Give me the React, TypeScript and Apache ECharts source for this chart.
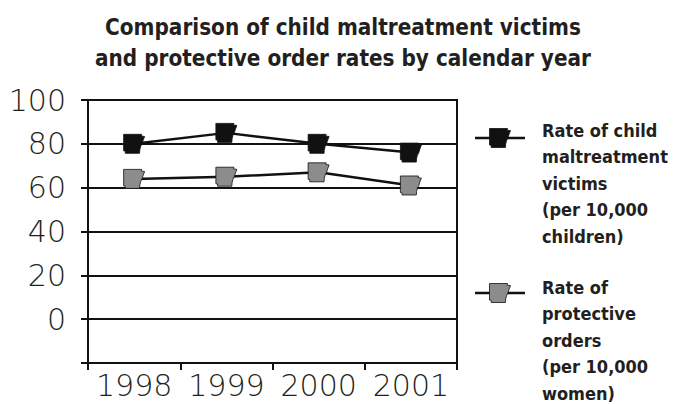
import React, { useEffect, useRef } from "react";
import * as echarts from "echarts";

const years = ["1998", "1999", "2000", "2001"];
const childMaltreatment = [80, 85, 80, 76];
const protectiveOrders = [64, 65, 67, 61];
const seriesNames = [
  "Rate of child\nmaltreatment\nvictims\n(per 10,000\nchildren)",
  "Rate of\nprotective\norders\n(per 10,000\nwomen)",
];
const titleText =
  "Comparison of child maltreatment victims\nand protective order rates by calendar year";
const yMin = -20;
const yMax = 100;
const yStep = 20;

const AR_PATH =
  "M0 0 L86 0 L84 8 L100 10 L93 28 L88 44 L81 58 L77 74 L76 90 L8 90 L8 80 L0 78 Z";
const AR_POINTS: number[][] = [
  [0, 0], [86, 0], [84, 8], [100, 10], [93, 28], [88, 44], [81, 58], [77, 74], [76, 90], [8, 90], [8, 80], [0, 78],
];

const TITLE_FONT = "'DejaVu Sans Condensed', 'Liberation Sans Narrow', sans-serif";
const AXIS_FONT = "'DejaVu Sans', sans-serif";

function legendItem(top: number, symY: number, fill: string, text: string) {
  const w = 21;
  const h = 19;
  const cx = 500;
  return [
    {
      type: "line",
      shape: { x1: 475, y1: symY, x2: 525, y2: symY },
      style: { stroke: "#111", lineWidth: 2.5 },
    },
    {
      type: "polygon",
      shape: {
        points: AR_POINTS.map((p) => [cx - w / 2 + (p[0] * w) / 100, symY - h / 2 + (p[1] * h) / 90]),
      },
      style: { fill, stroke: "#111", lineWidth: 0.8 },
    },
    {
      type: "text",
      left: 542,
      top,
      style: {
        text,
        font: `bold 18px ${TITLE_FONT}`,
        fill: "#231f20",
        lineHeight: 26.5,
      },
    },
  ];
}

export default function App() {
  const ref = useRef<HTMLDivElement>(null);
  useEffect(() => {
    if (!ref.current) return;
    const chart = echarts.init(ref.current, null, { renderer: "svg" });
    const symbol = "path://" + AR_PATH;
    chart.setOption({
      animation: false,
      backgroundColor: "#ffffff",
      title: {
        text: titleText,
        left: 338,
        textAlign: "center",
        top: 6,
        textStyle: {
          fontFamily: TITLE_FONT,
          fontWeight: "bold",
          fontSize: 22.3,
          lineHeight: 31,
          color: "#231f20",
        },
      },
      grid: {
        left: 88,
        right: 219,
        top: 100,
        bottom: 41,
        show: true,
        borderColor: "#111",
        borderWidth: 2,
        containLabel: false,
      },
      xAxis: {
        type: "category",
        data: years,
        boundaryGap: true,
        axisLine: { show: true, onZero: false, lineStyle: { color: "#111", width: 2 } },
        axisTick: { show: true, length: 7, interval: 0, lineStyle: { color: "#111", width: 2 } },
        axisLabel: {
          margin: 7,
          interval: 0,
          hideOverlap: false,
          fontFamily: AXIS_FONT,
          fontWeight: 200,
          fontSize: 30,
          color: "#231f20",
        },
        splitLine: { show: false },
      },
      yAxis: {
        type: "value",
        min: yMin,
        max: yMax,
        interval: yStep,
        axisLine: { show: true, lineStyle: { color: "#111", width: 2 } },
        axisTick: { show: true, length: 7, lineStyle: { color: "#111", width: 2 } },
        axisLabel: {
          margin: 22,
          fontFamily: AXIS_FONT,
          fontWeight: 200,
          fontSize: 30,
          color: "#231f20",
          formatter: (v: number) => (v < 0 ? "" : String(v)),
        },
        splitLine: { show: true, lineStyle: { color: "#111", width: 2 } },
      },
      series: [
        {
          name: seriesNames[0],
          type: "line",
          data: childMaltreatment,
          symbol,
          symbolSize: [21, 19],
          showAllSymbol: true,
          lineStyle: { color: "#111", width: 2.5 },
          itemStyle: { color: "#111", borderColor: "#111", borderWidth: 0.8 },
          z: 3,
        },
        {
          name: seriesNames[1],
          type: "line",
          data: protectiveOrders,
          symbol,
          symbolSize: [21, 19],
          showAllSymbol: true,
          lineStyle: { color: "#111", width: 2.5 },
          itemStyle: { color: "#8c8c8c", borderColor: "#111", borderWidth: 0.8 },
          z: 3,
        },
      ],
      graphic: [
        ...legendItem(117, 138, "#111", seriesNames[0]),
        ...legendItem(274, 293, "#8c8c8c", seriesNames[1]),
      ],
    });
    return () => chart.dispose();
  }, []);
  return <div ref={ref} style={{ width: 676, height: 404, position: "absolute", left: 0, top: 0 }} />;
}
